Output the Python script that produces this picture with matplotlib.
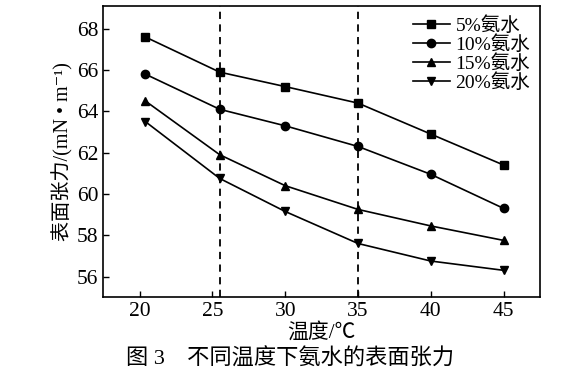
import matplotlib
matplotlib.use('Agg')
import matplotlib.pyplot as plt

plt.rcParams['font.family'] = ['Liberation Serif', 'Noto Sans CJK SC', 'DejaVu Serif']

# dados
temperatura = [20.4, 25.5, 30, 35, 40, 45]
amonia_5 = [67.6, 65.9, 65.2, 64.4, 62.9, 61.4]
amonia_10 = [65.8, 64.1, 63.3, 62.3, 60.95, 59.3]
amonia_15 = [64.5, 61.9, 60.4, 59.25, 58.45, 57.75]
amonia_20 = [63.5, 60.75, 59.15, 57.6, 56.75, 56.3]
rotulos = ['5%氨水', '10%氨水', '15%氨水', '20%氨水']
marcadores = ['s', 'o', '^', 'v']
linhas_tracejadas = [25.5, 35]

fig = plt.figure(figsize=(5.8, 3.8), dpi=100)
ax = fig.add_axes([0.178, 0.218, 0.753, 0.766])

series = [amonia_5, amonia_10, amonia_15, amonia_20]
for y, lab, m in zip(series, rotulos, marcadores):
    ax.plot(temperatura, y, color='black', lw=1.2, marker=m, ms=6, label=lab)

for xv in linhas_tracejadas:
    ax.axvline(xv, color='black', ls=(0, (4, 3)), lw=1.3)

ax.set_xlim(17.5, 47.5)
ax.set_ylim(55, 69.1)
ax.set_xticks([20, 25, 30, 35, 40, 45])
ax.set_yticks([56, 58, 60, 62, 64, 66, 68])
ax.tick_params(direction='in', length=4, width=1, labelsize=15.5)
for s in ax.spines.values():
    s.set_linewidth(1.2)

ax.set_xlabel('温度/℃', fontsize=15, labelpad=1)
ax.set_ylabel('表面张力/(mN • m⁻¹)', fontsize=14.5, labelpad=2)

ax.legend(loc='upper right', frameon=False, fontsize=14, handlelength=1.9,
          labelspacing=0.02, borderaxespad=0.1, handletextpad=0.3,
          bbox_to_anchor=(1.0, 1.0))

fig.text(0.5, 0.055, '图 3　不同温度下氨水的表面张力', ha='center', va='center', fontsize=16)

fig.savefig('out.png', dpi=100)
